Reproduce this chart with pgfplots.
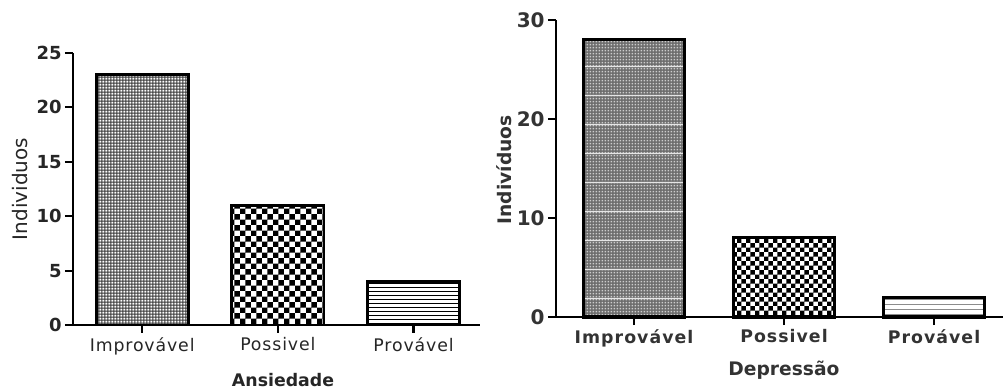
\documentclass[border=0pt]{standalone}
\usepackage{fontspec}
\setmainfont{DejaVu Sans}
\newfontfamily\spA[LetterSpace=5]{DejaVu Sans}
\newfontfamily\spB[LetterSpace=6]{DejaVu Sans}
\usepackage{pgfplots}
\pgfplotsset{compat=1.18}
\usetikzlibrary{patterns,patterns.meta}

\pgfdeclarepattern{name=chkA, bottom left={\pgfpointorigin}, top right={\pgfpoint{8.2pt}{8.2pt}}, tile size={\pgfpoint{8.2pt}{8.2pt}},
  code={\pgfpathrectangle{\pgfpointorigin}{\pgfpoint{4.1pt}{4.1pt}}\pgfpathrectangle{\pgfpoint{4.1pt}{4.1pt}}{\pgfpoint{4.1pt}{4.1pt}}\pgfusepath{fill}}}
\pgfdeclarepattern{name=chkB, bottom left={\pgfpointorigin}, top right={\pgfpoint{7pt}{7pt}}, tile size={\pgfpoint{7pt}{7pt}},
  code={\pgfpathrectangle{\pgfpointorigin}{\pgfpoint{3.5pt}{3.5pt}}\pgfpathrectangle{\pgfpoint{3.5pt}{3.5pt}}{\pgfpoint{3.5pt}{3.5pt}}\pgfusepath{fill}}}
\pgfdeclarepattern{name=finesq, bottom left={\pgfpointorigin}, top right={\pgfpoint{2.5pt}{2.5pt}}, tile size={\pgfpoint{2.5pt}{2.5pt}},
  code={\pgfpathrectangle{\pgfpoint{0.4pt}{0.4pt}}{\pgfpoint{1.7pt}{1.7pt}}\pgfusepath{fill}}}
\pgfdeclarepattern{name=finesqB, bottom left={\pgfpointorigin}, top right={\pgfpoint{2.5pt}{2.5pt}}, tile size={\pgfpoint{2.5pt}{2.5pt}},
  code={\pgfpathrectangle{\pgfpoint{0.45pt}{0.45pt}}{\pgfpoint{1.5pt}{1.5pt}}\pgfusepath{fill}}}
\pgfdeclarepattern{name=hlA, bottom left={\pgfpointorigin}, top right={\pgfpoint{3.3pt}{3.3pt}}, tile size={\pgfpoint{3.3pt}{3.3pt}},
  code={\pgfpathrectangle{\pgfpointorigin}{\pgfpoint{3.3pt}{0.75pt}}\pgfusepath{fill}}}
\pgfdeclarepattern{name=hlB, bottom left={\pgfpointorigin}, top right={\pgfpoint{4pt}{4pt}}, tile size={\pgfpoint{4pt}{4pt}},
  code={\pgfpathrectangle{\pgfpointorigin}{\pgfpoint{4pt}{0.7pt}}\pgfusepath{fill}}}
\pgfdeclarepattern{name=bandR, bottom left={\pgfpointorigin}, top right={\pgfpoint{4pt}{22.1pt}}, tile size={\pgfpoint{4pt}{22.1pt}},
  code={\pgfpathrectangle{\pgfpoint{0pt}{2.2pt}}{\pgfpoint{4pt}{0.9pt}}\pgfusepath{fill}}}

\pgfplotsset{myax/.style={
  scale only axis,
  axis x line=bottom, axis y line=left,
  axis line style={line width=2.2pt, -},
  tick align=outside,
  major tick length=6pt,
  every tick/.style={black, line width=1.6pt},
  xtick={0,1,2},
  ymin=0,
  clip=false,
  /pgf/number format/assume math mode=true,
  every axis plot/.append style={bar shift=0pt},
}}

\begin{document}
\begin{tikzpicture}
\path[use as bounding box] (0,0) rectangle (752.25pt,291.75pt);
% Left panel
\begin{axis}[myax,
  at={(54.75pt,48pt)}, anchor=south west,
  width=305.25pt, height=204pt,
  xmin=-0.51, xmax=2.49, ymax=25,
  ytick={0,5,10,15,20,25},
  xticklabels={Improvável,Possivel,Provável},
  xticklabel style={font=\fontsize{13}{15}\spA, text=black!85},
  yticklabel style={font=\fontsize{13.5}{15}\selectfont\bfseries, text=black!85, xshift=1pt},
  ylabel={Individuos},
  every axis y label/.style={at={(axis description cs:-0.130,0.5)}, rotate=90, anchor=center, font=\fontsize{15}{17}\selectfont, text=black!85},
  xlabel={Ansiedade},
  every axis x label/.style={at={(axis description cs:0.516,-0.202)}, anchor=center, font=\fontsize{13}{15}\selectfont\bfseries, text=black!85},
  ybar, bar width=0.68,
]
\addplot[draw=black, line width=2.2pt, fill=black!80, postaction={pattern=finesq, pattern color=white}] coordinates {(0,23)};
\addplot[draw=black, line width=2.2pt, fill=white, postaction={pattern=chkA, pattern color=black}] coordinates {(1,11)};
\addplot[draw=black, line width=2.2pt, fill=white, postaction={pattern=hlA, pattern color=black}] coordinates {(2,4)};
\end{axis}
% Right panel
\begin{axis}[myax,
  at={(417pt,54pt)}, anchor=south west,
  width=335.25pt, height=222.75pt,
  xmin=-0.52, xmax=2.46, ymax=30,
  ytick={0,10,20,30},
  xticklabels={Improvável,Possivel,Provável},
  xticklabel style={font=\fontsize{13}{15}\spB\bfseries, text=black!80},
  yticklabel style={font=\fontsize{15}{17}\selectfont\bfseries, text=black!80, xshift=1pt},
  ylabel={Indivíduos},
  every axis y label/.style={at={(axis description cs:-0.117,0.495)}, rotate=90, anchor=center, font=\fontsize{14}{16}\selectfont\bfseries, text=black!80},
  xlabel={Depressão},
  every axis x label/.style={at={(axis description cs:0.51,-0.178)}, anchor=center, font=\fontsize{14}{16}\selectfont\bfseries, text=black!80},
  ybar, bar width=0.67,
]
\addplot[draw=black, line width=2.4pt, fill=black!58, postaction={pattern=finesqB, pattern color=white!80!black}, postaction={pattern=bandR, pattern color=white!90!black}] coordinates {(0,28)};
\addplot[draw=black, line width=2.4pt, fill=white, postaction={pattern=chkB, pattern color=black}] coordinates {(1,8)};
\addplot[draw=black, line width=2.4pt, fill=white, postaction={pattern=hlB, pattern color=black!45}] coordinates {(2,2)};
\end{axis}
\end{tikzpicture}
\end{document}
